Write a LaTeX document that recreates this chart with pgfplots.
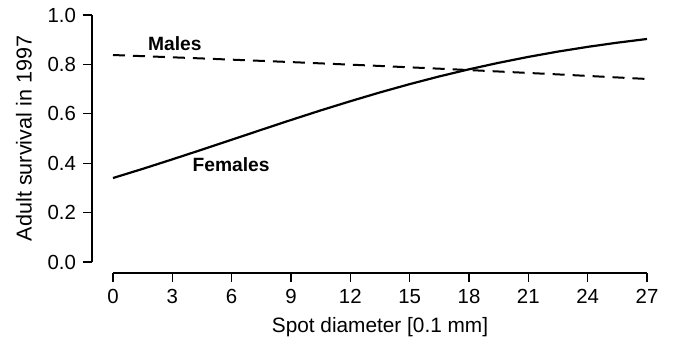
\documentclass[border=0pt]{standalone}
\usepackage{pgfplots}
\pgfplotsset{compat=1.18}
\usepackage{fontspec}
\setmainfont{Liberation Sans}
\usetikzlibrary{calc}
\begin{document}
\begin{tikzpicture}
\begin{axis}[name=main, scale only axis, width=267pt, height=123.5pt,
  xmin=0, xmax=27, ymin=0, ymax=1, hide axis, clip=false]
\addplot[black, line width=1.1pt] table {
x y
0 0.340
1.5 0.377
3 0.4156
4.5 0.4549
6 0.495
7.5 0.5352
9 0.5749
10.5 0.6137
12 0.6509
13.5 0.6866
15 0.7201
16.5 0.7514
18 0.7801
19.5 0.8065
21 0.8304
22.5 0.8519
24 0.8710
25.5 0.8880
27 0.903
};
\addplot[black, line width=1.0pt, dash pattern=on 6pt off 4pt] table {
x y
0 0.838
4.5 0.8241
9 0.8094
13.5 0.7937
18 0.7771
22.5 0.7595
27 0.741
};
\node[font=\fontsize{9.6}{11}\selectfont\bfseries] at (axis cs:3.13,0.885) {Males};
\node[font=\fontsize{9.6}{11}\selectfont\bfseries] at (axis cs:5.97,0.393) {Females};
\path (rel axis cs:0,0) ++(-56.5pt,-39.5pt);
\path (rel axis cs:1,1) ++(13pt,7.5pt);
\end{axis}
% y axis
\begin{axis}[at={($(main.south west)+(-10.5pt,0)$)}, anchor=south west,
  scale only axis, width=10pt, height=123.5pt,
  xmin=0, xmax=1, ymin=0, ymax=1,
  axis x line=none, axis y line=left,
  axis line style={line width=0.65pt, -},
  xtick=\empty, ytick={0,0.2,0.4,0.6,0.8,1.0},
  tick align=outside, major tick length=4.5pt,
  every tick/.style={black, line width=0.65pt},
  tick label style={font=\fontsize{10.2}{11}\selectfont},
  /pgf/number format/assume math mode=true,
  yticklabel style={/pgf/number format/fixed, /pgf/number format/fixed zerofill, /pgf/number format/precision=1},
  ylabel={\fontsize{10.8}{12}\selectfont Adult survival in 1997},
  ylabel style={at={(axis description cs:-3.4,0.5)}, anchor=center}]
\end{axis}
% x axis
\begin{axis}[at={($(main.south west)+(0,-5.5pt)$)}, anchor=south west,
  scale only axis, width=267pt, height=5pt,
  xmin=0, xmax=27, ymin=0, ymax=1,
  axis y line=none, axis x line=bottom,
  axis line style={line width=0.65pt, -},
  ytick=\empty, xtick={0,3,...,27},
  tick align=outside, major tick length=4.5pt,
  every tick/.style={black, line width=0.65pt},
  tick label style={font=\fontsize{10.2}{11}\selectfont},
  /pgf/number format/assume math mode=true,
  xlabel={\fontsize{10.4}{12}\selectfont Spot diameter [0.1 mm]},
  xlabel style={at={(axis description cs:0.5,-5.4)}, anchor=center}]
\end{axis}
\end{tikzpicture}
\end{document}
